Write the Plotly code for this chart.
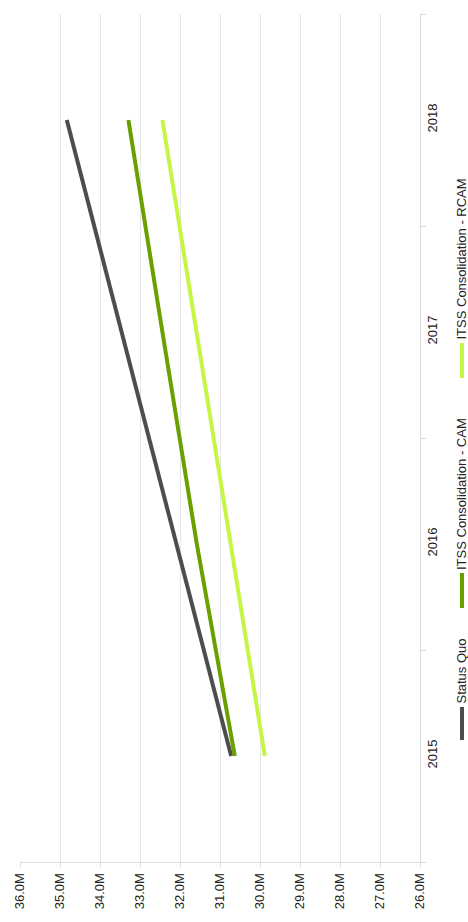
import plotly.graph_objects as go

# Annual totals per scenario (USD)
years = ["2015", "2016", "2017", "2018"]
status_quo = [30.72e6, 32.09e6, 33.47e6, 34.83e6]
itss_cam = [30.63e6, 31.58e6, 32.44e6, 33.29e6]
itss_rcam = [29.88e6, 30.73e6, 31.59e6, 32.44e6]

series_names = ["Status Quo", "ITSS Consolidation - CAM", "ITSS Consolidation - RCAM"]
series_values = [status_quo, itss_cam, itss_rcam]
series_colors = ["#4d4d4d", "#6ca000", "#c5f545"]

W, H = 468, 922
M_L, M_R, M_T, M_B = 20, 48, 14, 60
PW, PH = W - M_L - M_R, H - M_T - M_B

FONT = "Liberation Sans, Arial, sans-serif"
TEXT_COLOR = "#222222"


def px_x(px):
    return (px - M_L) / PW


def px_y(py):
    return (H - M_B - py) / PH


fig = go.Figure()
for name, vals, col in zip(series_names, series_values, series_colors):
    fig.add_trace(go.Scatter(
        x=vals, y=years, name=name, mode="lines",
        line=dict(color=col, width=4),
        showlegend=False,
    ))

# Rotated legend drawn on the right edge, read from bottom to top
legend_items = [
    # (symbol bottom px, symbol top px, text start px)
    (740, 707, 705),
    (608, 573, 571),
    (378, 343, 341),
]
shapes = []
annotations = []
for (b, t, ts), name, col in zip(legend_items, series_names, series_colors):
    shapes.append(dict(
        type="line", xref="paper", yref="paper",
        x0=px_x(462), x1=px_x(462), y0=px_y(b), y1=px_y(t),
        line=dict(color=col, width=4),
    ))
    annotations.append(dict(
        text=name, xref="paper", yref="paper",
        x=px_x(461), y=px_y(ts), xanchor="center", yanchor="bottom",
        textangle=-90, showarrow=False, borderpad=0,
        font=dict(family=FONT, size=13, color=TEXT_COLOR),
    ))

fig.update_layout(
    width=W, height=H,
    margin=dict(l=M_L, r=M_R, t=M_T, b=M_B, pad=0),
    paper_bgcolor="white", plot_bgcolor="white",
    font=dict(family=FONT, size=13, color=TEXT_COLOR),
    shapes=shapes, annotations=annotations,
    xaxis=dict(
        range=[36e6, 26e6], dtick=1e6, tick0=26e6,
        tickformat=".3s", tickangle=-90,
        showgrid=True, gridcolor="#e6e6e6", gridwidth=1,
        showline=True, linecolor="#e0e0e0", linewidth=1,
        ticks="outside", ticklen=5, tickcolor="#e0e0e0",
        zeroline=False, automargin=False,
        tickfont=dict(family=FONT, size=13, color=TEXT_COLOR),
    ),
    yaxis=dict(
        type="category", side="right", tickson="boundaries",
        range=[-0.5, len(years) - 0.5],
        tickangle=-90, showgrid=False,
        showline=True, linecolor="#d9d9d9", linewidth=1,
        ticks="outside", ticklen=5, tickcolor="#d9d9d9",
        zeroline=False, automargin=False,
        tickfont=dict(family=FONT, size=13, color=TEXT_COLOR),
    ),
)

fig.write_html("out.html")
